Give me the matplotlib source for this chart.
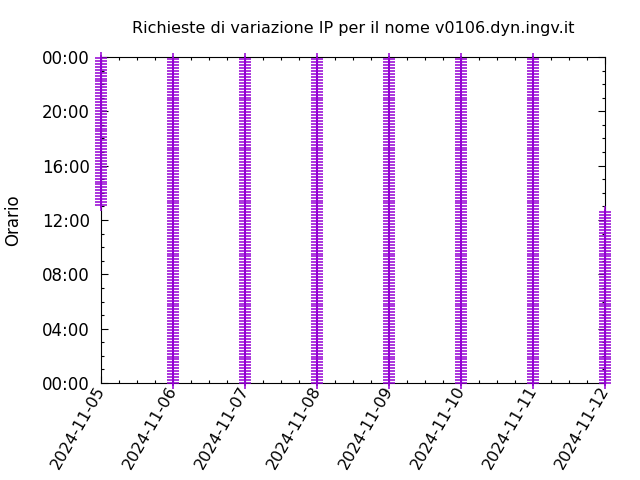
import numpy as np
import matplotlib
matplotlib.use("Agg")
import matplotlib.pyplot as plt
import matplotlib.dates as mdates
from matplotlib.ticker import MultipleLocator, FuncFormatter

# days with requests, and the span of hours covered on each day
days = ["2024-11-05", "2024-11-06", "2024-11-07", "2024-11-08",
        "2024-11-09", "2024-11-10", "2024-11-11", "2024-11-12"]
start_h = [13.1, 0.0, 0.0, 0.0, 0.0, 0.0, 0.0, 0.0]
end_h = [24.0, 24.0, 24.0, 24.0, 24.0, 24.0, 24.0, 12.75]
step_min = 13  # one update about every 13 minutes

title = "Richieste di variazione IP per il nome v0106.dyn.ingv.it"
color = "#9400d3"

plt.rcParams['font.family'] = ['DejaVu Sans']
fig = plt.figure(figsize=(6.4, 4.8), dpi=100)
ax = fig.add_axes([101 / 640, 97 / 480, 504 / 640, 326 / 480])

for d, s, e in zip(days, start_h, end_h):
    hh = np.arange(s, e + 1e-9, step_min / 60.0)
    xx = np.full(len(hh), mdates.datestr2num(d))
    ax.plot(xx, hh, linestyle="none", marker="+", ms=8, mew=1.1,
            color=color, clip_on=False, zorder=3)

ax.set_xlim(mdates.datestr2num(days[0]), mdates.datestr2num(days[-1]))
ax.set_ylim(0, 24)

ax.xaxis.set_major_locator(mdates.DayLocator())
ax.xaxis.set_minor_locator(mdates.HourLocator(byhour=[6, 12, 18]))
ax.xaxis.set_major_formatter(mdates.DateFormatter("%Y-%m-%d"))
ax.yaxis.set_major_locator(MultipleLocator(4))
ax.yaxis.set_minor_locator(MultipleLocator(1))
ax.yaxis.set_major_formatter(FuncFormatter(lambda v, p: "%02d:00" % (int(round(v)) % 24)))

ax.tick_params(which="both", direction="in", top=True, right=True,
               labelsize=12, color="black", width=0.8)
ax.tick_params(which="major", length=5, pad=8)
ax.tick_params(which="minor", length=2.5)
ax.tick_params(axis="x", which="major", labelsize=11.5, pad=3)
for lbl in ax.get_xticklabels():
    lbl.set_rotation(60)
    lbl.set_rotation_mode("anchor")
    lbl.set_ha("right")
    lbl.set_va("center")

for sp in ax.spines.values():
    sp.set_linewidth(0.8)

ax.set_ylabel("Orario", fontsize=12, labelpad=14)
ax.set_title(title, fontsize=11.5, pad=17)

fig.savefig("out.png", dpi=100)
